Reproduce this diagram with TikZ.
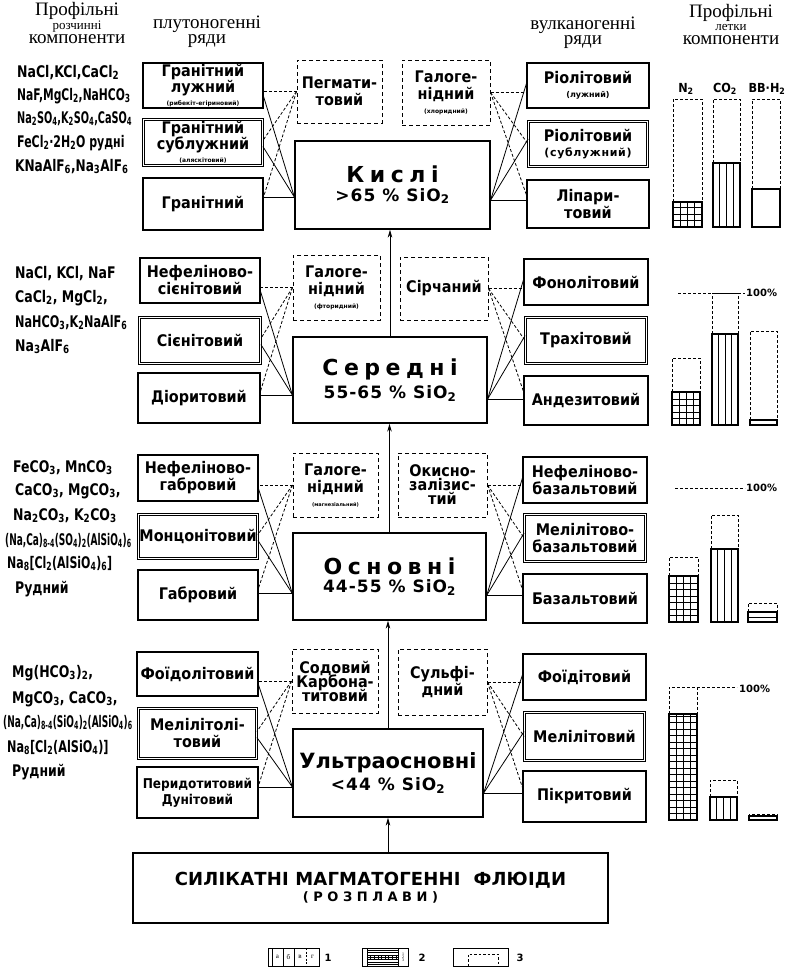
\documentclass[tikz,border=0pt]{standalone}
\usepackage{fontspec}
\usepackage{graphicx}
\setmainfont{Liberation Serif}
\newfontfamily\df{DejaVu Sans}
\newfontfamily\boxff{DejaVu Sans}[FakeStretch=0.9]
\newfontfamily\chemf{DejaVu Sans}[FakeStretch=0.78]
\usetikzlibrary{calc,arrows.meta}
\newcommand\sbs[1]{\textsubscript{#1}}
\newcommand\bxf{\boxff\bfseries\fontsize{16}{17}\selectfont}
\newcommand\smf{\df\bfseries\fontsize{6}{7}\selectfont}
\newcommand\cfa{\df\bfseries\fontsize{22}{24}\selectfont\addfontfeature{LetterSpace=25}}
\newcommand\cfb{\df\bfseries\fontsize{17}{20}\selectfont\addfontfeature{LetterSpace=6}}
\newcommand\chf{\chemf\bfseries\fontsize{16}{17}\selectfont}
\newcommand\barhead[5]{%
  \draw[bardash] (#1,#4) -- (#1,#3) -- (#2,#3) -- (#2,#4);
  \draw[barsolid] (#1,#4) rectangle (#2,#5);}
\newcommand\gridcol[5]{\barhead{#1}{#2}{#3}{#4}{#5}%
  \begin{scope}\clip (#1,#4) rectangle (#2,#5);
  \foreach \k in {1,...,20}{\draw[line width=0.6pt] ({#1+\k*7},#4) -- ({#1+\k*7},#5);}
  \foreach \k in {1,...,20}{\draw[line width=0.6pt] (#1,{#5-\k*6.5}) -- (#2,{#5-\k*6.5});}
  \end{scope}}
\newcommand\stripecol[5]{\barhead{#1}{#2}{#3}{#4}{#5}%
  \foreach \k in {1,2,3}{\draw[line width=0.7pt] ({#1+(#2-#1)*\k/4},#4) -- ({#1+(#2-#1)*\k/4},#5);}}
\newcommand\plaincol[5]{\barhead{#1}{#2}{#3}{#4}{#5}}
\tikzset{
  pbox/.style={draw, line width=1.1pt, inner sep=1pt, align=center, font=\bxf},
  dbox/.style={pbox, double, double distance=1.4pt, line width=0.8pt},
  dashbox/.style={pbox, dash pattern=on 4pt off 3pt, line width=1pt},
  cbox/.style={draw, line width=1.3pt, inner sep=2pt, align=center},
  conn/.style={line width=0.8pt},
  dconn/.style={line width=0.8pt, dash pattern=on 3pt off 2pt},
  arr/.style={line width=0.9pt, -{Stealth[length=8pt,width=4.5pt]}},
  hdr/.style={font=\fontsize{19}{19}\selectfont, inner sep=0pt, anchor=base},
  hdrs/.style={font=\fontsize{13}{13}\selectfont, inner sep=0pt, anchor=base},
  chem/.style={font=\chf, inner sep=0pt, anchor=base west},
  bardash/.style={line width=1pt, dash pattern=on 3pt off 2pt},
  barsolid/.style={line width=1.1pt},
  barlbl/.style={font=\boxff\bfseries\fontsize{12.5}{13}\selectfont, inner sep=0pt, anchor=base},
  pct/.style={font=\df\bfseries\fontsize{10}{10}\selectfont, inner sep=0pt, anchor=west},
  leg/.style={font=\fontsize{7}{7}\selectfont, inner sep=0pt},
  legn/.style={font=\df\bfseries\fontsize{10}{10}\selectfont, inner sep=0pt},
}
\begin{document}
\begin{tikzpicture}[x=1pt,y=-1pt]
\useasboundingbox (0,0) rectangle (787,977);

% headers
\node[hdr] (h1) at (77,16) {Профільні};
\node[hdrs] (h2) at (77,29) {розчинні};
\node[hdr] (h3) at (77,43) {компоненти};
\node[hdr] (h4) at (207,28.5) {плутоногенні};
\node[hdr] (h5) at (207,43) {ряди};
\node[hdr] (h6) at (583,29.5) {вулканогенні};
\node[hdr] (h7) at (583,44) {ряди};
\node[hdr] (h8) at (731,17) {Профільні};
\node[hdrs] (h9) at (731,30) {летки};
\node[hdr] (h10) at (731,44) {компоненти};

% row 1
\node[pbox, minimum width=120pt, minimum height=45pt] (La1) at (203,85.5) {Гранітний\\[-1.5pt]лужний\\[-4pt]{\smf(рибекіт-егіриновий)}};
\node[dbox, minimum width=119pt, minimum height=46pt] (Lb1) at (203,142.5) {Гранітний\\[-1.5pt]сублужний\\[-4pt]{\smf(аляскітовий)}};
\node[pbox, minimum width=120pt, minimum height=52pt] (Lc1) at (203,204) {Гранітний};
\node[dashbox, minimum width=85pt, minimum height=63pt] (DL1) at (339.5,91.5) {Пегмати-\\товий};
\node[dashbox, minimum width=88pt, minimum height=65pt] (DR1) at (446,92.5) {Галоге-\\нідний\\[-3pt]{\smf(хлоридний)}};
\node[pbox, minimum width=122pt, minimum height=45pt] (Ra1) at (588,85.5) {Ріолітовий\\[-3pt]{\df\bfseries\fontsize{8}{9}\selectfont(лужний)}};
\node[dbox, minimum width=119pt, minimum height=45pt] (Rb1) at (588,144) {Ріолітовий\\[-2pt]{\df\bfseries\fontsize{11}{12}\selectfont\addfontfeature{LetterSpace=6}(сублужний)}};
\node[pbox, minimum width=122pt, minimum height=48pt] (Rc1) at (588,204) {Ліпари-\\товий};
\node[cbox, minimum width=195pt, minimum height=88pt] (C1) at (392.5,185) {{\cfa Кислі}\\[4pt]{\cfb >65 \% SiO\sbs{2}}};

% row 2
\node[pbox, minimum width=120pt, minimum height=45pt] (La2) at (200,280.5) {Нефеліново-\\сієнітовий};
\node[dbox, minimum width=121pt, minimum height=46pt] (Lb2) at (200,340.5) {Сієнітовий};
\node[pbox, minimum width=122pt, minimum height=50pt] (Lc2) at (199,398) {Діоритовий};
\node[dashbox, minimum width=87pt, minimum height=65pt] (DL2) at (336.5,287.5) {Галоге-\\нідний\\[-3pt]{\smf(фторидний)}};
\node[dashbox, minimum width=88pt, minimum height=63pt] (DR2) at (444,288.5) {Сірчаний};
\node[pbox, minimum width=124pt, minimum height=46pt] (Ra2) at (586,282) {Фонолітовий};
\node[dbox, minimum width=121pt, minimum height=46pt] (Rb2) at (586,340.5) {Трахітовий};
\node[pbox, minimum width=124pt, minimum height=49pt] (Rc2) at (586,400.5) {Андезитовий};
\node[cbox, minimum width=194pt, minimum height=86pt] (C2) at (390,380) {{\cfa Середні}\\[4pt]{\cfb 55-65 \% SiO\sbs{2}}};

% row 3
\node[pbox, minimum width=120pt, minimum height=46pt] (La3) at (198,478) {Нефеліново-\\габровий};
\node[dbox, minimum width=117pt, minimum height=44pt] (Lb3) at (198,536.5) {Монцонітовий};
\node[pbox, minimum width=120pt, minimum height=50pt] (Lc3) at (198,595) {Габровий};
\node[dashbox, minimum width=85pt, minimum height=64pt] (DL3) at (335.5,485) {Галоге-\\нідний\\[-3pt]{\df\bfseries\fontsize{5}{6}\selectfont(магнезіальний)}};
\node[dashbox, minimum width=89pt, minimum height=64pt] (DR3) at (442.5,485) {Окисно-\\[-3pt]залізис-\\[-3pt]тий};
\node[pbox, minimum width=124pt, minimum height=46pt] (Ra3) at (585,480) {Нефеліново-\\базальтовий};
\node[dbox, minimum width=121pt, minimum height=47pt] (Rb3) at (585,538) {Мелілітово-\\базальтовий};
\node[pbox, minimum width=124pt, minimum height=49pt] (Rc3) at (585,598.5) {Базальтовий};
\node[cbox, minimum width=193pt, minimum height=87pt] (C3) at (389.5,576.5) {{\cfa Основні}\\[4pt]{\cfb 44-55 \% SiO\sbs{2}}};

% row 4
\node[pbox, minimum width=121pt, minimum height=44pt] (La4) at (197.5,674) {Фоїдолітовий};
\node[dbox, minimum width=118pt, minimum height=50pt] (Lb4) at (197.5,733.5) {Мелілітолі-\\товий};
\node[pbox, minimum width=121pt, minimum height=51pt, font=\boxff\bfseries\fontsize{13.5}{16}\selectfont] (Lc4) at (197.5,792.5) {Перидотитовий\\Дунітовий};
\node[dashbox, minimum width=86pt, minimum height=64pt] (DL4) at (335,681) {Содовий\\[-3pt]Карбона-\\[-3pt]титовий};
\node[dashbox, minimum width=89pt, minimum height=66pt] (DR4) at (442.5,682) {Сульфі-\\дний};
\node[pbox, minimum width=123pt, minimum height=46pt] (Ra4) at (584.5,677) {Фоїдітовий};
\node[dbox, minimum width=120pt, minimum height=48pt] (Rb4) at (584.5,736.5) {Мелілітовий};
\node[pbox, minimum width=123pt, minimum height=51pt] (Rc4) at (584.5,796.5) {Пікритовий};
\node[cbox, minimum width=190pt, minimum height=88pt] (C4) at (388,773) {{\df\bfseries\fontsize{21}{24}\selectfont Ультраосновні}\\[4pt]{\cfb <44 \% SiO\sbs{2}}};

% bottom
\node[cbox, minimum width=475pt, minimum height=70pt] (B) at (370.5,888) {{\df\bfseries\fontsize{18}{20}\selectfont\addfontfeature{LetterSpace=1}СИЛІКАТНІ МАГМАТОГЕННІ\ \ ФЛЮІДИ}\\[2pt]{\df\bfseries\fontsize{13}{15}\selectfont\addfontfeature{LetterSpace=35}(РОЗПЛАВИ)}};

% vertical arrows
\draw[arr] (B.north -| C4.south) -- (C4.south);
\draw[arr] (C4.north) -- (C4.north |- C3.south);
\draw[arr] (C3.north) -- (C3.north |- C2.south);
\draw[arr] (C2.north) -- (C2.north |- C1.south);

% connectors
\foreach \r/\sl/\sr in {1/12/15, 2/15/19, 3/17/19, 4/14/20}{
  \coordinate (CL\r) at ($(C\r.west)+(0,\sl)$);
  \coordinate (CR\r) at ($(C\r.east)+(0,\sr)$);
  \draw[conn] (CL\r) -- ($(La\r.east)+(0,11)$);
  \draw[conn] (CL\r) -- ($(Lb\r.east)+(0,4)$);
  \draw[conn] (CL\r) -- (CL\r -| Lc\r.east);
  \draw[dconn] (DL\r.west) -- (DL\r.west -| La\r.east);
  \draw[dconn] (DL\r.west) -- ($(Lb\r.east)+(0,-2)$);
  \draw[dconn] (DL\r.west) -- ($(Lc\r.east)+(0,-7)$);
  \draw[conn] (CR\r) -- ($(Ra\r.west)+(0,-2)$);
  \draw[conn] (CR\r) -- ($(Rb\r.west)+(0,-5)$);
  \draw[conn] (CR\r) -- (CR\r -| Rc\r.west);
  \draw[dconn] (DR\r.east) -- (DR\r.east -| Ra\r.west);
  \draw[dconn] (DR\r.east) -- ($(Rb\r.west)+(0,0)$);
  \draw[dconn] (DR\r.east) -- ($(Rc\r.west)+(0,-9)$);
}

% chemistry, row 1
\node[chem] (k11) at (17,77) {NaCl,KCl,CaCl\sbs{2}};
\node[chem] (k12) at (17,100) {\scalebox{0.86}[1]{NaF,MgCl\sbs{2},NaHCO\sbs{3}}};
\node[chem] (k13) at (17,123) {\scalebox{0.78}[1]{Na\sbs{2}SO\sbs{4},K\sbs{2}SO\sbs{4},CaSO\sbs{4}}};
\node[chem] (k14) at (17,147) {\scalebox{0.88}[1]{FeCl\sbs{2}·2H\sbs{2}O рудні}};
\node[chem] (k15) at (15,171) {\scalebox{0.97}[1]{KNaAlF\sbs{6},Na\sbs{3}AlF\sbs{6}}};
% row 2
\node[chem] (k21) at (15,278) {NaCl, KCl, NaF};
\node[chem] (k22) at (15,302) {CaCl\sbs{2}, MgCl\sbs{2},};
\node[chem] (k23) at (15,327) {\scalebox{0.9}[1]{NaHCO\sbs{3},K\sbs{2}NaAlF\sbs{6}}};
\node[chem] (k24) at (15,351) {Na\sbs{3}AlF\sbs{6}};
% row 3
\node[chem] (k31) at (13,472) {FeCO\sbs{3}, MnCO\sbs{3}};
\node[chem] (k32) at (15,495) {CaCO\sbs{3}, MgCO\sbs{3},};
\node[chem] (k33) at (13,520) {Na\sbs{2}CO\sbs{3}, K\sbs{2}CO\sbs{3}};
\node[chem] (k34) at (5,545) {\scalebox{0.72}[1]{(Na,Ca)\sbs{8-4}(SO\sbs{4})\sbs{2}(AlSiO\sbs{4})\sbs{6}}};
\node[chem] (k35) at (7,568) {\scalebox{0.88}[1]{Na\sbs{8}[Cl\sbs{2}(AlSiO\sbs{4})\sbs{6}]}};
\node[chem] (k36) at (15,593) {Рудний};
% row 4
\node[chem] (k41) at (12,677) {Mg(HCO\sbs{3})\sbs{2},};
\node[chem] (k42) at (12,703) {MgCO\sbs{3}, CaCO\sbs{3},};
\node[chem] (k43) at (3,727) {\scalebox{0.72}[1]{(Na,Ca)\sbs{8-4}(SiO\sbs{4})\sbs{2}(AlSiO\sbs{4})\sbs{6}}};
\node[chem] (k44) at (7,752) {\scalebox{0.9}[1]{Na\sbs{8}[Cl\sbs{2}(AlSiO\sbs{4})]}};
\node[chem] (k45) at (12,776) {Рудний};

% bars
\node[barlbl] (bN) at (686,92) {N\sbs{2}};
\node[barlbl] (bC) at (725,92) {CO\sbs{2}};
\node[barlbl] (bB) at (767,92) {BB·H\sbs{2}};
\gridcol{673}{702}{99}{202}{227}
\stripecol{713}{740}{99}{163}{227}
\plaincol{752}{780}{99}{189}{227}

\draw[bardash] (678,293) -- (745,293);
\node[pct] (p2) at (746,293) {100\%};
\gridcol{672}{700}{358}{392}{425}
\stripecol{712}{738}{293}{334}{425}
\plaincol{750}{777}{331}{420}{425}

\draw[bardash] (675,488) -- (745,488);
\node[pct] (p3) at (746,488) {100\%};
\gridcol{669}{698}{557}{576}{622}
\stripecol{711}{738}{515}{549}{622}
\plaincol{748}{777}{603}{612}{622}
\draw[line width=0.7pt] (748,617) -- (777,617);

\draw[bardash] (697,687) -- (737,687);
\node[pct] (p4) at (739,689) {100\%};
\gridcol{669}{697}{687}{714}{820}
\stripecol{710}{737}{780}{797}{820}
\plaincol{749}{777}{814}{816}{820}

% legend
\draw[line width=0.9pt] (268,948) rectangle (319,966);
\draw[line width=0.7pt] (272,948) -- (272,966) (283,948) -- (283,966) (294,948) -- (294,966);
\draw[line width=0.7pt, dash pattern=on 2pt off 1.5pt] (306,948) -- (306,966);
\node[leg] (la) at (277.5,957) {а};
\node[leg] (lb) at (288.5,957) {б};
\node[leg] (lv) at (300,957) {в};
\node[leg] (lg) at (312.5,957) {г};
\node[legn] (n1) at (328,958) {1};
\draw[line width=0.9pt] (362,948) rectangle (408,966);
\draw[line width=0.7pt] (367,948) -- (367,966) (398,948) -- (398,966);
\begin{scope}
\clip (367,950) rectangle (398,964);
\foreach \k in {0,...,6}{\draw[line width=0.6pt] (367,{950+\k*2.4}) -- (398,{950+\k*2.4});}
\foreach \k in {1,...,8}{\draw[line width=0.5pt] ({367+\k*3.6},955) -- ({367+\k*3.6},960);}
\end{scope}
\node[leg, font=\fontsize{4}{4}\selectfont, align=center] (l123) at (403,957) {1\\[-1pt]2\\[-1pt]3};
\node[legn] (n2) at (422,958) {2};
\draw[line width=0.9pt] (453,948) rectangle (508,966);
\draw[line width=0.9pt, dash pattern=on 2.5pt off 2pt] (468,966) -- (468,954) -- (498,954) -- (498,966);
\node[legn] (n3) at (520,958) {3};
\end{tikzpicture}
\end{document}
